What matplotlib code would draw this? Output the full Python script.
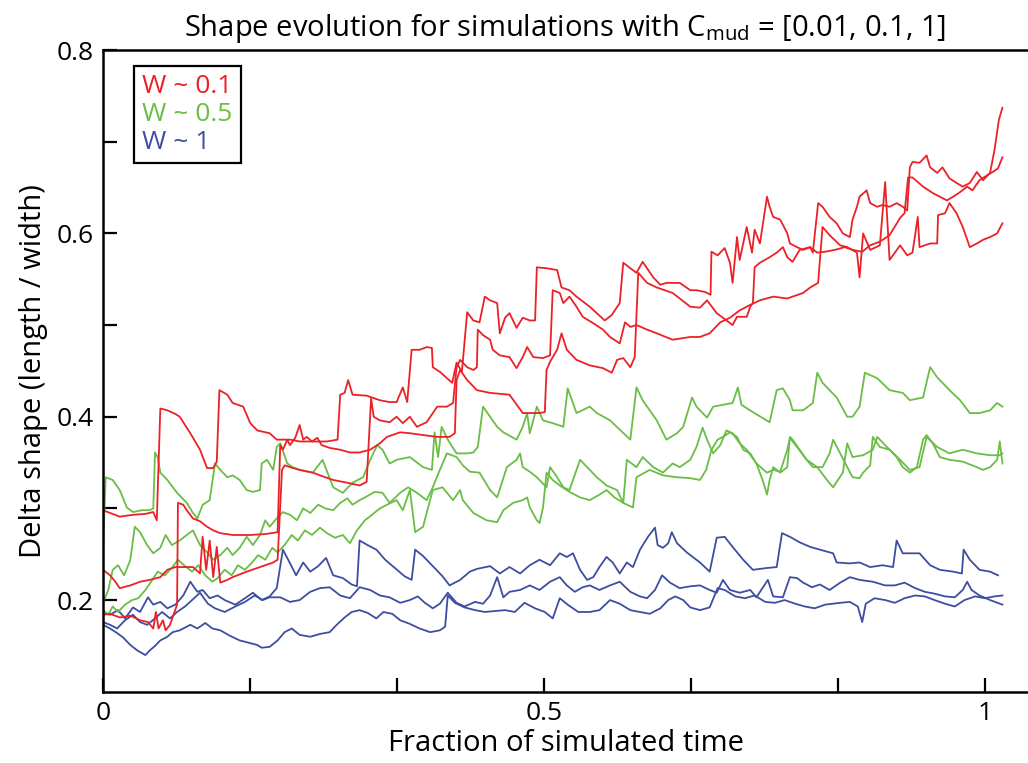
import numpy as np
import matplotlib.pyplot as plt
from matplotlib.lines import Line2D

# Shape ratio (length / width) against fraction of simulated time,
# three runs for each width class W

red_1_t = [0.000, 0.008, 0.019, 0.034, 0.048, 0.057, 0.061, 0.065, 0.073, 0.082, 0.087, 0.099, 0.110, 0.118,
           0.125, 0.129, 0.132, 0.141, 0.147, 0.159, 0.167, 0.175, 0.189, 0.197, 0.212, 0.223, 0.238, 0.254,
           0.266, 0.269, 0.274, 0.278, 0.283, 0.299, 0.314, 0.325, 0.333, 0.340, 0.345, 0.350, 0.359, 0.367,
           0.373, 0.374, 0.382, 0.396, 0.401, 0.407, 0.413, 0.420, 0.427, 0.433, 0.439, 0.447, 0.450, 0.456,
           0.461, 0.469, 0.476, 0.484, 0.490, 0.492, 0.503, 0.515, 0.520, 0.529, 0.537, 0.552, 0.569, 0.577,
           0.586, 0.590, 0.598, 0.605, 0.612, 0.624, 0.632, 0.639, 0.654, 0.666, 0.673, 0.683, 0.689, 0.690,
           0.697, 0.705, 0.711, 0.714, 0.719, 0.722, 0.730, 0.736, 0.739, 0.745, 0.753, 0.756, 0.760, 0.768,
           0.776, 0.779, 0.787, 0.794, 0.802, 0.805, 0.811, 0.816, 0.824, 0.832, 0.839, 0.847, 0.850, 0.855,
           0.858, 0.866, 0.870, 0.878, 0.884, 0.892, 0.900, 0.907, 0.912, 0.915, 0.918, 0.926, 0.934, 0.938,
           0.946, 0.952, 0.960, 0.968, 0.975, 0.983, 0.991, 0.998, 1.006, 1.011, 1.016, 1.020]
red_1_v = [0.298, 0.295, 0.291, 0.293, 0.294, 0.296, 0.287, 0.409, 0.407, 0.403, 0.400, 0.382, 0.364, 0.344,
           0.344, 0.351, 0.429, 0.424, 0.415, 0.411, 0.393, 0.385, 0.382, 0.375, 0.375, 0.373, 0.373, 0.373,
           0.375, 0.424, 0.426, 0.440, 0.424, 0.423, 0.418, 0.416, 0.416, 0.432, 0.416, 0.473, 0.473, 0.476,
           0.475, 0.454, 0.449, 0.437, 0.459, 0.449, 0.514, 0.505, 0.503, 0.531, 0.527, 0.524, 0.491, 0.508,
           0.513, 0.497, 0.508, 0.505, 0.505, 0.563, 0.562, 0.560, 0.541, 0.538, 0.531, 0.520, 0.505, 0.511,
           0.524, 0.568, 0.562, 0.557, 0.569, 0.552, 0.544, 0.546, 0.546, 0.538, 0.538, 0.536, 0.533, 0.580,
           0.576, 0.584, 0.568, 0.546, 0.596, 0.571, 0.607, 0.579, 0.604, 0.589, 0.640, 0.629, 0.618, 0.615,
           0.600, 0.589, 0.585, 0.582, 0.585, 0.579, 0.633, 0.629, 0.618, 0.611, 0.600, 0.596, 0.615, 0.629,
           0.640, 0.647, 0.633, 0.629, 0.631, 0.629, 0.633, 0.629, 0.625, 0.672, 0.678, 0.677, 0.685, 0.672,
           0.666, 0.672, 0.660, 0.655, 0.651, 0.655, 0.667, 0.658, 0.666, 0.691, 0.724, 0.737]

red_2_t = [0.000, 0.008, 0.019, 0.031, 0.042, 0.051, 0.057, 0.060, 0.063, 0.068, 0.071, 0.076, 0.080, 0.084,
           0.085, 0.091, 0.095, 0.102, 0.110, 0.118, 0.125, 0.133, 0.147, 0.167, 0.184, 0.198, 0.201, 0.204,
           0.209, 0.212, 0.218, 0.223, 0.227, 0.231, 0.237, 0.243, 0.248, 0.257, 0.269, 0.280, 0.291, 0.303,
           0.314, 0.322, 0.337, 0.348, 0.363, 0.379, 0.393, 0.399, 0.401, 0.405, 0.413, 0.424, 0.439, 0.461,
           0.476, 0.495, 0.501, 0.503, 0.507, 0.515, 0.520, 0.526, 0.537, 0.552, 0.567, 0.577, 0.583, 0.590,
           0.598, 0.603, 0.607, 0.617, 0.628, 0.646, 0.666, 0.677, 0.685, 0.696, 0.703, 0.714, 0.719, 0.730,
           0.734, 0.737, 0.739, 0.745, 0.756, 0.764, 0.771, 0.776, 0.782, 0.790, 0.802, 0.810, 0.819, 0.830,
           0.841, 0.850, 0.861, 0.870, 0.881, 0.892, 0.904, 0.909, 0.913, 0.918, 0.930, 0.941, 0.949, 0.957,
           0.964, 0.972, 0.980, 0.986, 0.994, 1.002, 1.009, 1.015, 1.020]
red_2_v = [0.184, 0.185, 0.181, 0.183, 0.178, 0.176, 0.169, 0.187, 0.169, 0.178, 0.167, 0.173, 0.184, 0.195,
           0.306, 0.304, 0.298, 0.289, 0.286, 0.280, 0.276, 0.273, 0.271, 0.271, 0.272, 0.274, 0.369, 0.364,
           0.375, 0.369, 0.377, 0.391, 0.375, 0.378, 0.373, 0.377, 0.369, 0.366, 0.364, 0.361, 0.361, 0.364,
           0.371, 0.378, 0.383, 0.382, 0.380, 0.378, 0.378, 0.382, 0.440, 0.451, 0.440, 0.429, 0.426, 0.424,
           0.404, 0.404, 0.405, 0.451, 0.460, 0.473, 0.491, 0.473, 0.462, 0.456, 0.453, 0.448, 0.462, 0.464,
           0.454, 0.465, 0.557, 0.546, 0.541, 0.535, 0.520, 0.519, 0.527, 0.513, 0.508, 0.500, 0.509, 0.509,
           0.520, 0.524, 0.563, 0.568, 0.574, 0.579, 0.585, 0.574, 0.569, 0.582, 0.585, 0.579, 0.580, 0.582,
           0.585, 0.582, 0.580, 0.587, 0.591, 0.598, 0.617, 0.622, 0.661, 0.661, 0.651, 0.644, 0.640, 0.636,
           0.640, 0.645, 0.651, 0.647, 0.658, 0.663, 0.667, 0.671, 0.683]

red_3_t = [0.000, 0.008, 0.014, 0.019, 0.031, 0.042, 0.053, 0.065, 0.073, 0.082, 0.095, 0.102, 0.110, 0.113,
           0.117, 0.121, 0.125, 0.129, 0.133, 0.141, 0.147, 0.163, 0.178, 0.193, 0.198, 0.203, 0.206, 0.212,
           0.223, 0.238, 0.249, 0.261, 0.277, 0.291, 0.299, 0.304, 0.307, 0.314, 0.325, 0.333, 0.340, 0.348,
           0.356, 0.367, 0.379, 0.390, 0.397, 0.401, 0.405, 0.413, 0.420, 0.424, 0.425, 0.431, 0.439, 0.442,
           0.450, 0.461, 0.469, 0.476, 0.481, 0.488, 0.499, 0.507, 0.510, 0.518, 0.522, 0.529, 0.537, 0.544,
           0.556, 0.567, 0.575, 0.586, 0.592, 0.598, 0.605, 0.617, 0.628, 0.646, 0.666, 0.677, 0.688, 0.700,
           0.711, 0.722, 0.734, 0.745, 0.760, 0.776, 0.794, 0.802, 0.811, 0.813, 0.816, 0.824, 0.836, 0.844,
           0.855, 0.858, 0.862, 0.870, 0.881, 0.887, 0.889, 0.892, 0.904, 0.912, 0.918, 0.924, 0.926, 0.938,
           0.946, 0.947, 0.955, 0.960, 0.968, 0.975, 0.983, 0.991, 0.998, 1.006, 1.014, 1.020]
red_3_v = [0.233, 0.227, 0.220, 0.213, 0.216, 0.220, 0.222, 0.225, 0.233, 0.236, 0.236, 0.236, 0.229, 0.269,
           0.233, 0.265, 0.225, 0.258, 0.219, 0.222, 0.225, 0.231, 0.236, 0.241, 0.244, 0.342, 0.347, 0.345,
           0.342, 0.339, 0.335, 0.331, 0.328, 0.325, 0.329, 0.420, 0.400, 0.396, 0.394, 0.400, 0.393, 0.400,
           0.389, 0.394, 0.411, 0.411, 0.415, 0.454, 0.462, 0.454, 0.451, 0.454, 0.495, 0.489, 0.484, 0.473,
           0.467, 0.465, 0.453, 0.465, 0.476, 0.465, 0.464, 0.467, 0.538, 0.535, 0.524, 0.531, 0.520, 0.509,
           0.502, 0.495, 0.487, 0.480, 0.503, 0.498, 0.500, 0.495, 0.491, 0.484, 0.487, 0.487, 0.491, 0.503,
           0.508, 0.516, 0.522, 0.527, 0.531, 0.529, 0.535, 0.541, 0.546, 0.571, 0.607, 0.598, 0.587, 0.585,
           0.579, 0.552, 0.600, 0.582, 0.587, 0.656, 0.622, 0.571, 0.587, 0.576, 0.579, 0.618, 0.585, 0.589,
           0.589, 0.620, 0.622, 0.633, 0.622, 0.607, 0.585, 0.589, 0.593, 0.596, 0.600, 0.611]

green_1_t = [0.000, 0.003, 0.011, 0.019, 0.027, 0.034, 0.044, 0.053, 0.057, 0.059, 0.062, 0.065, 0.073, 0.084,
             0.095, 0.102, 0.107, 0.113, 0.121, 0.127, 0.133, 0.141, 0.147, 0.155, 0.163, 0.170, 0.178, 0.180,
             0.186, 0.193, 0.197, 0.201, 0.209, 0.215, 0.223, 0.238, 0.249, 0.261, 0.272, 0.283, 0.295, 0.303,
             0.311, 0.317, 0.325, 0.333, 0.348, 0.363, 0.373, 0.376, 0.380, 0.384, 0.391, 0.401, 0.413, 0.420,
             0.425, 0.431, 0.439, 0.447, 0.454, 0.469, 0.476, 0.481, 0.484, 0.492, 0.499, 0.510, 0.522, 0.527,
             0.537, 0.552, 0.560, 0.575, 0.598, 0.605, 0.612, 0.628, 0.639, 0.651, 0.658, 0.668, 0.673, 0.685,
             0.692, 0.714, 0.720, 0.724, 0.737, 0.756, 0.764, 0.771, 0.779, 0.782, 0.794, 0.805, 0.810, 0.816,
             0.821, 0.832, 0.844, 0.850, 0.858, 0.864, 0.878, 0.892, 0.907, 0.915, 0.930, 0.938, 0.946, 0.960,
             0.972, 0.983, 0.994, 1.006, 1.014, 1.020]
green_1_v = [0.255, 0.334, 0.331, 0.320, 0.301, 0.296, 0.298, 0.298, 0.300, 0.361, 0.356, 0.339, 0.331, 0.317,
             0.306, 0.295, 0.289, 0.304, 0.309, 0.349, 0.342, 0.334, 0.336, 0.331, 0.320, 0.318, 0.320, 0.349,
             0.353, 0.342, 0.367, 0.371, 0.349, 0.345, 0.342, 0.339, 0.353, 0.323, 0.317, 0.328, 0.334, 0.353,
             0.369, 0.364, 0.349, 0.353, 0.356, 0.345, 0.342, 0.383, 0.356, 0.389, 0.375, 0.360, 0.360, 0.361,
             0.367, 0.411, 0.400, 0.389, 0.383, 0.375, 0.389, 0.404, 0.382, 0.411, 0.396, 0.393, 0.389, 0.431,
             0.404, 0.411, 0.404, 0.396, 0.375, 0.432, 0.418, 0.396, 0.375, 0.382, 0.389, 0.421, 0.411, 0.399,
             0.411, 0.415, 0.432, 0.413, 0.405, 0.394, 0.429, 0.431, 0.418, 0.407, 0.407, 0.415, 0.448, 0.437,
             0.432, 0.421, 0.400, 0.400, 0.411, 0.448, 0.442, 0.429, 0.426, 0.418, 0.421, 0.454, 0.443, 0.429,
             0.418, 0.404, 0.404, 0.407, 0.415, 0.411]

green_2_t = [0.000, 0.006, 0.011, 0.017, 0.024, 0.031, 0.036, 0.042, 0.050, 0.057, 0.065, 0.071, 0.078, 0.087,
             0.095, 0.102, 0.110, 0.118, 0.125, 0.133, 0.141, 0.147, 0.155, 0.163, 0.170, 0.178, 0.184, 0.189,
             0.197, 0.204, 0.212, 0.220, 0.227, 0.235, 0.244, 0.252, 0.261, 0.269, 0.277, 0.283, 0.291, 0.299,
             0.308, 0.317, 0.325, 0.337, 0.346, 0.356, 0.367, 0.374, 0.382, 0.390, 0.401, 0.408, 0.416, 0.427,
             0.439, 0.447, 0.458, 0.469, 0.473, 0.476, 0.484, 0.492, 0.503, 0.507, 0.515, 0.522, 0.529, 0.541,
             0.549, 0.560, 0.571, 0.583, 0.590, 0.594, 0.605, 0.612, 0.624, 0.635, 0.646, 0.654, 0.666, 0.673,
             0.680, 0.685, 0.692, 0.700, 0.707, 0.714, 0.722, 0.730, 0.741, 0.753, 0.760, 0.768, 0.776, 0.779,
             0.787, 0.798, 0.810, 0.821, 0.828, 0.839, 0.844, 0.850, 0.862, 0.873, 0.878, 0.889, 0.904, 0.915,
             0.926, 0.934, 0.946, 0.960, 0.975, 0.991, 1.006, 1.017, 1.020]
green_2_v = [0.197, 0.211, 0.233, 0.238, 0.227, 0.244, 0.280, 0.274, 0.260, 0.251, 0.257, 0.271, 0.260, 0.265,
             0.271, 0.276, 0.260, 0.252, 0.244, 0.249, 0.257, 0.249, 0.257, 0.269, 0.260, 0.271, 0.287, 0.280,
             0.289, 0.296, 0.293, 0.287, 0.300, 0.295, 0.304, 0.300, 0.298, 0.306, 0.311, 0.304, 0.309, 0.313,
             0.318, 0.317, 0.306, 0.317, 0.323, 0.317, 0.309, 0.323, 0.342, 0.360, 0.356, 0.347, 0.340, 0.339,
             0.320, 0.312, 0.345, 0.353, 0.360, 0.345, 0.340, 0.334, 0.323, 0.345, 0.334, 0.323, 0.320, 0.353,
             0.345, 0.334, 0.325, 0.320, 0.306, 0.353, 0.345, 0.356, 0.345, 0.339, 0.349, 0.345, 0.353, 0.367,
             0.388, 0.375, 0.360, 0.369, 0.385, 0.382, 0.371, 0.364, 0.349, 0.339, 0.342, 0.340, 0.364, 0.377,
             0.367, 0.353, 0.345, 0.331, 0.323, 0.339, 0.371, 0.356, 0.358, 0.364, 0.378, 0.367, 0.353, 0.342,
             0.345, 0.378, 0.367, 0.360, 0.364, 0.360, 0.358, 0.358, 0.360]

green_3_t = [0.000, 0.006, 0.011, 0.017, 0.025, 0.033, 0.040, 0.048, 0.056, 0.062, 0.070, 0.078, 0.085, 0.093,
             0.101, 0.108, 0.116, 0.124, 0.130, 0.138, 0.146, 0.153, 0.161, 0.169, 0.176, 0.184, 0.192, 0.198,
             0.206, 0.214, 0.221, 0.229, 0.237, 0.246, 0.254, 0.263, 0.272, 0.280, 0.288, 0.297, 0.305, 0.314,
             0.322, 0.333, 0.340, 0.348, 0.354, 0.363, 0.367, 0.374, 0.385, 0.397, 0.405, 0.408, 0.420, 0.435,
             0.447, 0.454, 0.465, 0.476, 0.481, 0.484, 0.492, 0.495, 0.499, 0.503, 0.510, 0.518, 0.529, 0.541,
             0.552, 0.563, 0.571, 0.580, 0.590, 0.601, 0.605, 0.620, 0.635, 0.651, 0.666, 0.677, 0.684, 0.690,
             0.697, 0.703, 0.711, 0.719, 0.726, 0.734, 0.741, 0.748, 0.753, 0.756, 0.760, 0.768, 0.776, 0.779,
             0.782, 0.790, 0.798, 0.805, 0.816, 0.824, 0.828, 0.836, 0.844, 0.850, 0.858, 0.862, 0.870, 0.873,
             0.881, 0.892, 0.900, 0.907, 0.915, 0.923, 0.930, 0.934, 0.941, 0.949, 0.960, 0.975, 0.991, 0.998,
             1.006, 1.014, 1.017, 1.020]
green_3_v = [0.189, 0.184, 0.193, 0.187, 0.195, 0.200, 0.202, 0.211, 0.222, 0.231, 0.227, 0.235, 0.244, 0.237,
             0.231, 0.238, 0.227, 0.220, 0.224, 0.233, 0.227, 0.238, 0.233, 0.241, 0.249, 0.244, 0.257, 0.252,
             0.260, 0.271, 0.265, 0.276, 0.271, 0.279, 0.273, 0.268, 0.271, 0.262, 0.276, 0.287, 0.293, 0.300,
             0.304, 0.309, 0.298, 0.320, 0.274, 0.280, 0.295, 0.320, 0.323, 0.309, 0.320, 0.309, 0.295, 0.287,
             0.285, 0.298, 0.306, 0.309, 0.312, 0.301, 0.287, 0.284, 0.301, 0.339, 0.331, 0.325, 0.318, 0.312,
             0.309, 0.315, 0.320, 0.312, 0.306, 0.301, 0.334, 0.342, 0.336, 0.334, 0.333, 0.331, 0.342, 0.364,
             0.375, 0.378, 0.383, 0.378, 0.364, 0.360, 0.349, 0.331, 0.315, 0.331, 0.345, 0.339, 0.345, 0.378,
             0.375, 0.364, 0.353, 0.345, 0.345, 0.360, 0.375, 0.360, 0.345, 0.334, 0.333, 0.339, 0.347, 0.378,
             0.367, 0.364, 0.356, 0.345, 0.339, 0.345, 0.375, 0.380, 0.371, 0.356, 0.353, 0.351, 0.345, 0.342,
             0.345, 0.353, 0.373, 0.349]

blue_1_t = [0.000, 0.008, 0.017, 0.025, 0.034, 0.042, 0.051, 0.057, 0.065, 0.073, 0.082, 0.091, 0.099, 0.107,
            0.113, 0.121, 0.130, 0.138, 0.150, 0.161, 0.170, 0.180, 0.189, 0.197, 0.204, 0.210, 0.219, 0.227,
            0.235, 0.244, 0.253, 0.261, 0.272, 0.282, 0.288, 0.291, 0.300, 0.310, 0.320, 0.331, 0.342, 0.350,
            0.354, 0.363, 0.374, 0.385, 0.393, 0.405, 0.416, 0.424, 0.439, 0.450, 0.461, 0.473, 0.484, 0.495,
            0.507, 0.518, 0.526, 0.533, 0.541, 0.549, 0.556, 0.563, 0.571, 0.578, 0.586, 0.594, 0.601, 0.609,
            0.618, 0.626, 0.629, 0.635, 0.641, 0.645, 0.651, 0.662, 0.677, 0.688, 0.696, 0.705, 0.714, 0.726,
            0.737, 0.753, 0.764, 0.770, 0.779, 0.790, 0.802, 0.813, 0.828, 0.832, 0.847, 0.858, 0.870, 0.884,
            0.896, 0.900, 0.907, 0.926, 0.938, 0.949, 0.964, 0.974, 0.976, 0.983, 0.994, 1.006, 1.015]
blue_1_v = [0.187, 0.184, 0.189, 0.180, 0.192, 0.187, 0.203, 0.195, 0.198, 0.191, 0.195, 0.205, 0.220, 0.209,
            0.211, 0.202, 0.205, 0.200, 0.195, 0.202, 0.208, 0.200, 0.204, 0.213, 0.255, 0.244, 0.227, 0.241,
            0.231, 0.237, 0.246, 0.227, 0.224, 0.217, 0.215, 0.265, 0.260, 0.255, 0.244, 0.235, 0.226, 0.222,
            0.255, 0.248, 0.237, 0.226, 0.216, 0.222, 0.231, 0.234, 0.237, 0.229, 0.236, 0.229, 0.238, 0.244,
            0.238, 0.251, 0.247, 0.251, 0.233, 0.222, 0.225, 0.236, 0.247, 0.241, 0.229, 0.241, 0.236, 0.255,
            0.269, 0.279, 0.260, 0.257, 0.262, 0.274, 0.262, 0.252, 0.241, 0.231, 0.268, 0.269, 0.258, 0.244,
            0.233, 0.235, 0.236, 0.273, 0.269, 0.263, 0.258, 0.255, 0.251, 0.241, 0.240, 0.241, 0.236, 0.238,
            0.236, 0.265, 0.251, 0.251, 0.238, 0.233, 0.231, 0.229, 0.255, 0.244, 0.233, 0.231, 0.227]

blue_2_t = [0.000, 0.008, 0.016, 0.025, 0.034, 0.042, 0.050, 0.059, 0.067, 0.076, 0.084, 0.093, 0.101, 0.110,
            0.119, 0.127, 0.138, 0.150, 0.161, 0.172, 0.181, 0.189, 0.201, 0.212, 0.223, 0.235, 0.246, 0.257,
            0.269, 0.280, 0.291, 0.303, 0.314, 0.325, 0.337, 0.348, 0.357, 0.365, 0.374, 0.382, 0.391, 0.401,
            0.410, 0.422, 0.431, 0.439, 0.447, 0.454, 0.461, 0.473, 0.484, 0.495, 0.507, 0.518, 0.526, 0.535,
            0.544, 0.552, 0.563, 0.575, 0.586, 0.598, 0.609, 0.617, 0.626, 0.634, 0.643, 0.654, 0.666, 0.677,
            0.688, 0.696, 0.703, 0.711, 0.722, 0.734, 0.741, 0.754, 0.760, 0.771, 0.779, 0.787, 0.794, 0.804,
            0.813, 0.824, 0.836, 0.847, 0.858, 0.873, 0.887, 0.898, 0.909, 0.921, 0.932, 0.943, 0.955, 0.966,
            0.975, 0.980, 0.985, 0.994, 1.006, 1.020]
blue_2_v = [0.176, 0.173, 0.169, 0.178, 0.184, 0.176, 0.173, 0.180, 0.187, 0.180, 0.187, 0.193, 0.200, 0.208,
            0.196, 0.191, 0.187, 0.193, 0.198, 0.205, 0.200, 0.203, 0.203, 0.198, 0.200, 0.209, 0.213, 0.214,
            0.205, 0.202, 0.214, 0.211, 0.205, 0.203, 0.197, 0.200, 0.204, 0.197, 0.191, 0.196, 0.208, 0.197,
            0.193, 0.198, 0.196, 0.205, 0.225, 0.203, 0.209, 0.211, 0.216, 0.211, 0.220, 0.225, 0.216, 0.209,
            0.214, 0.216, 0.211, 0.216, 0.220, 0.209, 0.204, 0.202, 0.211, 0.227, 0.219, 0.213, 0.215, 0.216,
            0.211, 0.208, 0.222, 0.211, 0.208, 0.211, 0.203, 0.222, 0.204, 0.203, 0.225, 0.224, 0.219, 0.214,
            0.217, 0.211, 0.219, 0.225, 0.222, 0.220, 0.216, 0.216, 0.219, 0.213, 0.209, 0.207, 0.204, 0.203,
            0.211, 0.220, 0.211, 0.205, 0.200, 0.195]

blue_3_t = [0.000, 0.008, 0.016, 0.023, 0.031, 0.039, 0.048, 0.053, 0.059, 0.065, 0.073, 0.079, 0.087, 0.099,
            0.107, 0.116, 0.124, 0.133, 0.144, 0.155, 0.167, 0.175, 0.180, 0.189, 0.198, 0.206, 0.214, 0.223,
            0.235, 0.246, 0.257, 0.265, 0.274, 0.282, 0.291, 0.300, 0.310, 0.318, 0.328, 0.337, 0.348, 0.359,
            0.371, 0.382, 0.388, 0.391, 0.399, 0.410, 0.422, 0.433, 0.444, 0.456, 0.467, 0.478, 0.490, 0.501,
            0.510, 0.518, 0.527, 0.539, 0.552, 0.563, 0.575, 0.586, 0.598, 0.609, 0.620, 0.632, 0.641, 0.649,
            0.658, 0.666, 0.677, 0.688, 0.697, 0.705, 0.717, 0.728, 0.739, 0.751, 0.762, 0.773, 0.785, 0.796,
            0.807, 0.819, 0.836, 0.847, 0.856, 0.861, 0.865, 0.875, 0.887, 0.898, 0.909, 0.921, 0.932, 0.943,
            0.955, 0.966, 0.977, 0.989, 1.000, 1.011, 1.020]
blue_3_v = [0.173, 0.169, 0.164, 0.159, 0.151, 0.145, 0.140, 0.145, 0.150, 0.156, 0.160, 0.165, 0.167, 0.173,
            0.169, 0.175, 0.169, 0.167, 0.161, 0.156, 0.153, 0.151, 0.148, 0.149, 0.156, 0.165, 0.169, 0.162,
            0.160, 0.163, 0.165, 0.173, 0.181, 0.187, 0.189, 0.186, 0.180, 0.187, 0.185, 0.178, 0.174, 0.169,
            0.165, 0.167, 0.171, 0.205, 0.197, 0.192, 0.189, 0.187, 0.188, 0.189, 0.187, 0.197, 0.191, 0.187,
            0.180, 0.202, 0.195, 0.187, 0.187, 0.189, 0.200, 0.196, 0.189, 0.187, 0.185, 0.191, 0.200, 0.204,
            0.200, 0.192, 0.189, 0.192, 0.213, 0.211, 0.204, 0.202, 0.205, 0.198, 0.197, 0.200, 0.196, 0.193,
            0.191, 0.195, 0.197, 0.198, 0.193, 0.176, 0.196, 0.202, 0.200, 0.197, 0.202, 0.205, 0.204, 0.200,
            0.196, 0.193, 0.200, 0.204, 0.202, 0.204, 0.205]

RED = '#ec2127'
GREEN = '#6abd45'
BLUE = '#3d4ea1'

legend_labels = ['W ~ 0.1', 'W ~ 0.5', 'W ~ 1']
legend_colors = [RED, GREEN, BLUE]

plt.rcParams['font.family'] = 'Open Sans'
plt.rcParams['mathtext.fontset'] = 'custom'
plt.rcParams['mathtext.rm'] = 'Open Sans'

fig = plt.figure(figsize=(10.28, 7.63), dpi=100)
ax = fig.add_axes([0.1002, 0.0934, 0.8998, 0.8410])

traces = [
    (blue_1_t, blue_1_v, BLUE), (blue_2_t, blue_2_v, BLUE), (blue_3_t, blue_3_v, BLUE),
    (green_1_t, green_1_v, GREEN), (green_2_t, green_2_v, GREEN), (green_3_t, green_3_v, GREEN),
    (red_1_t, red_1_v, RED), (red_2_t, red_2_v, RED), (red_3_t, red_3_v, RED),
]
for t, v, c in traces:
    ax.plot(t, v, color=c, lw=1.3)

ax.set_xlim(0, 1.049)
ax.set_ylim(0.1, 0.8)

ax.set_xticks([0, 1 / 6, 2 / 6, 0.5, 4 / 6, 5 / 6, 1])
ax.set_xticklabels(['0', '', '', '0.5', '', '', '1'])
ax.set_yticks([0.2, 0.3, 0.4, 0.5, 0.6, 0.7, 0.8])
ax.set_yticklabels(['0.2', '', '0.4', '', '0.6', '', '0.8'])
ax.tick_params(direction='in', length=10, width=1.6, labelsize=19, pad=7)

ax.spines['right'].set_visible(False)
for side in ['left', 'bottom', 'top']:
    ax.spines[side].set_linewidth(1.8)

ax.set_xlabel('Fraction of simulated time', fontsize=21, labelpad=2)
ax.set_ylabel('Delta shape (length / width)', fontsize=21, labelpad=6)
ax.set_title(r'Shape evolution for simulations with C$_{\mathregular{mud}}$ = [0.01, 0.1, 1]',
             fontsize=21, pad=10)

handles = [Line2D([], [], lw=0) for _ in legend_labels]
leg = ax.legend(handles, legend_labels, loc='upper left', bbox_to_anchor=(0.034, 0.975),
                borderaxespad=0, handlelength=0, handletextpad=0, fontsize=19,
                fancybox=False, edgecolor='black', framealpha=1, borderpad=0.3, labelspacing=0.12)
leg.get_frame().set_linewidth(1.6)
for txt, c in zip(leg.get_texts(), legend_colors):
    txt.set_color(c)

fig.savefig('out.png', dpi=100)
